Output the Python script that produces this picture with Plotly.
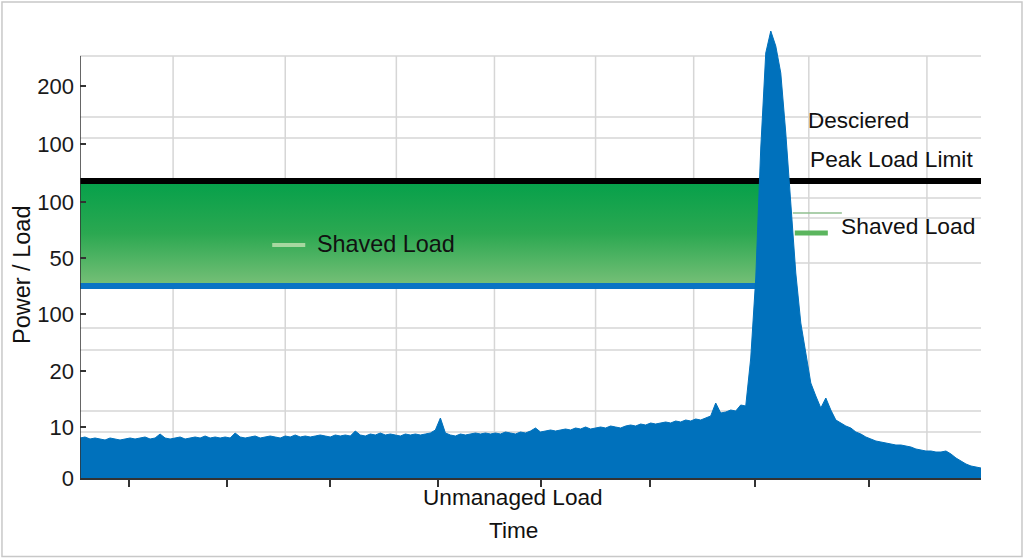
import plotly.graph_objects as go

# ---------------- data ----------------
# load height sampled at equal time steps (arbitrary units)
load = [40, 41, 39, 40, 39, 38, 40, 39, 38, 39,
        40, 39, 40, 41, 39, 40, 44, 40, 39, 40,
        41, 39, 40, 41, 40, 42, 40, 41, 40, 41,
        40, 45, 41, 40, 41, 42, 40, 41, 42, 41,
        40, 42, 41, 43, 41, 42, 41, 42, 43, 42,
        41, 43, 42, 43, 42, 47, 43, 42, 44, 43,
        45, 43, 44, 43, 42, 44, 43, 44, 43, 44,
        45, 48, 60, 45, 43, 42, 44, 43, 44, 45,
        44, 45, 44, 45, 44, 46, 45, 44, 46, 45,
        47, 50, 46, 47, 48, 47, 48, 49, 48, 50,
        49, 51, 49, 50, 51, 50, 52, 51, 50, 52,
        53, 52, 54, 53, 55, 54, 55, 56, 55, 57,
        56, 58, 57, 59, 58, 60, 62, 75, 65, 66,
        68, 67, 73, 72, 120, 200, 330, 425, 447, 432,
        405, 345, 275, 205, 155, 125, 95, 82, 70, 80,
        68, 58, 55, 52, 50, 46, 44, 41, 39, 37,
        36, 35, 34, 33, 33, 32, 31, 29, 28, 27,
        27, 26, 26, 27, 24, 20, 17, 14, 12, 11, 10]
time = list(range(len(load)))

peak_limit = 297      # desired peak load limit
shave_floor = 192     # level the load is shaved to
band_end = 136        # time where shaving band meets the peak

ytick_vals = [0, 51, 107, 164, 220, 276, 334, 392]
ytick_text = ["0", "10", "20", "100", "50", "100", "100", "200"]
xtick_vals = [9.8, 29.4, 50, 71.6, 92, 113.8, 134.8, 157.6]
ygrid = [46, 67, 128, 150, 215, 260, 280, 340, 361, 422]
xgrid = [18.6, 41, 63.2, 82.8, 103, 122.6, 145.6, 169.2]

BLUE = "#0071bc"
FONT = "Arial, Liberation Sans, sans-serif"

fig = go.Figure()

# shaved-load band with vertical gradient
fig.add_trace(go.Scatter(
    x=[0, band_end, band_end, 0, 0],
    y=[shave_floor, shave_floor, peak_limit, peak_limit, shave_floor],
    fill="toself", mode="none", hoverinfo="skip",
    fillgradient=dict(type="vertical",
                      colorscale=[[0, "#78c078"], [0.5, "#2ba851"], [1, "#05a04a"]],
                      start=shave_floor, stop=peak_limit),
    showlegend=False))

# shave floor line (blue)
fig.add_trace(go.Scatter(x=[0, band_end], y=[shave_floor, shave_floor], mode="lines",
                         line=dict(color="#0a74c4", width=6), showlegend=False))
# peak limit line (black)
fig.add_trace(go.Scatter(x=[0, time[-1]], y=[peak_limit, peak_limit], mode="lines",
                         line=dict(color="#000000", width=6), showlegend=False))

# unmanaged load area
fig.add_trace(go.Scatter(x=time, y=load, mode="lines", fill="tozeroy",
                         line=dict(color=BLUE, width=1), fillcolor=BLUE,
                         showlegend=False))

shapes = []
for g in ygrid:
    shapes.append(dict(type="line", xref="x", yref="y", x0=0, x1=time[-1], y0=g, y1=g,
                       line=dict(color="#d6d6d6", width=1.5), layer="below"))
for g in xgrid:
    shapes.append(dict(type="line", xref="x", yref="y", x0=g, x1=g, y0=0, y1=ygrid[-1],
                       line=dict(color="#d6d6d6", width=1.5), layer="below"))
# left axis line (stops at top of box)
shapes.append(dict(type="line", xref="x", yref="y", x0=0, x1=0, y0=0, y1=ygrid[-1],
                   line=dict(color="#333333", width=1.5)))
# legend-like marks
shapes.append(dict(type="line", xref="x", yref="y", x0=38.4, x1=45.0, y0=233, y1=233,
                   line=dict(color="#a6d8a0", width=4)))
shapes.append(dict(type="line", xref="x", yref="y", x0=142.8, x1=149.4, y0=245, y1=245,
                   line=dict(color="#5bb55e", width=5)))
shapes.append(dict(type="line", xref="x", yref="y", x0=142.4, x1=152.2, y0=265, y1=265,
                   line=dict(color="#8fbf8f", width=1.5)))
# outer frame
shapes.append(dict(type="rect", xref="paper", yref="paper", x0=-0.0866, x1=1.0455,
                   y0=-0.1745, y1=1.058, line=dict(color="#c8c8c8", width=1.5)))

annos = [
    dict(x=145.0, y=358, text="Desciered", xanchor="left", xref="x", yref="y", size=22.5),
    dict(x=145.4, y=319, text="Peak Load Limit", xanchor="left", xref="x", yref="y", size=22.7),
    dict(x=46.9, y=234, text="Shaved Load", xanchor="left", xref="x", yref="y", size=23.4),
    dict(x=151.6, y=252, text="Shaved Load", xanchor="left", xref="x", yref="y", size=22.8),
    dict(x=0.4806, y=-0.0444, text="Unmanaged Load", xanchor="center",
         xref="paper", yref="paper", size=22.6),
    dict(x=0.4806, y=-0.1156, text="Time", xanchor="center",
         xref="paper", yref="paper", size=22.6),
    dict(x=-0.0644, y=0.451, text="Power / Load", xanchor="center", textangle=-90,
         xref="paper", yref="paper", size=23.5),
]
for a in annos:
    s = a.pop("size")
    a.update(showarrow=False, yanchor="middle",
             font=dict(family=FONT, size=s, color="#111111"))

fig.update_layout(
    width=1024, height=559,
    margin=dict(l=80, r=43, t=28, b=81),
    paper_bgcolor="white", plot_bgcolor="white",
    shapes=shapes, annotations=annos,
    xaxis=dict(range=[0, time[-1]], tickvals=xtick_vals, ticktext=[""] * len(xtick_vals),
               ticks="outside", ticklen=7, tickcolor="#333333", tickwidth=1.5,
               showgrid=False, zeroline=False, showline=True, linecolor="#333333",
               linewidth=1.5, fixedrange=True),
    yaxis=dict(range=[0, 450], tickvals=ytick_vals, ticktext=ytick_text,
               ticks="inside", ticklen=6, tickcolor="#333333", tickwidth=1.5,
               showgrid=False, zeroline=False, showline=False,
               ticklabelstandoff=5,
               tickfont=dict(family=FONT, size=22, color="#1a1a1a"),
               fixedrange=True),
)

fig.write_html("out.html")
